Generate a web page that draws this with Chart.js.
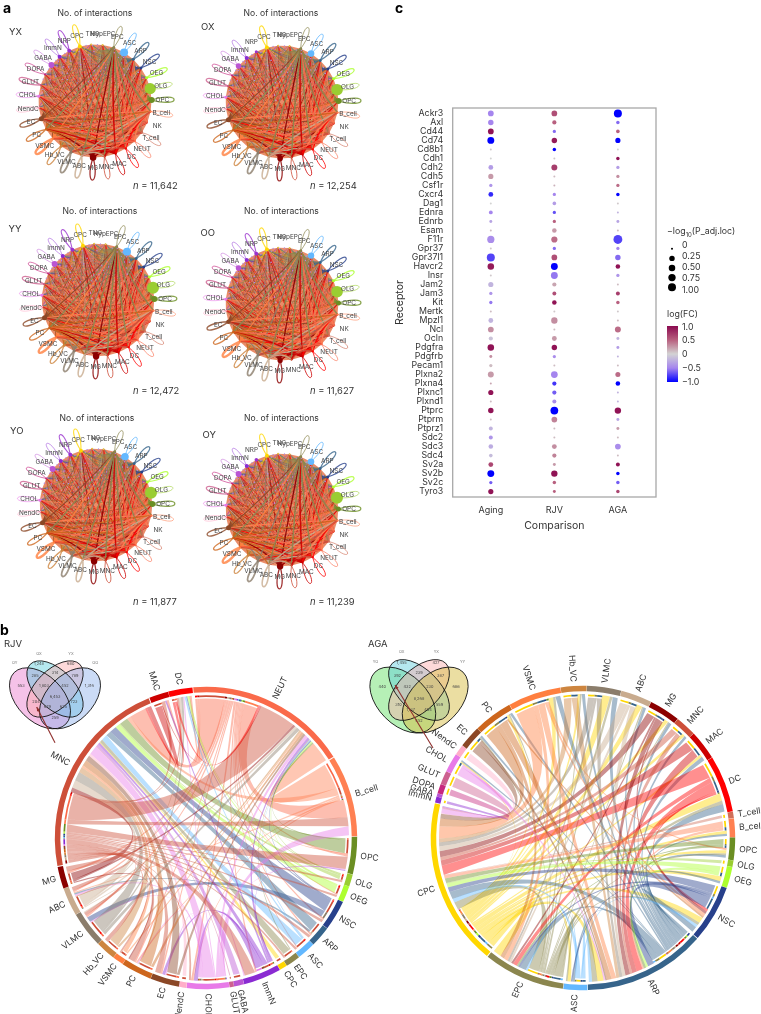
<!DOCTYPE html>
<html>
<head>
<meta charset="utf-8">
<title>Interactions</title>
<script src="https://cdn.jsdelivr.net/npm/chart.js@4"></script>
<style>
  html, body { margin: 0; padding: 0; background: #fff; }
  body { position: relative; width: 761px; height: 1014px; overflow: hidden; font-family: Inter, sans-serif; color: #333; }
  canvas { position: absolute; }
  .txt { position: absolute; white-space: nowrap; line-height: 1; }
  .panel { font-weight: 700; font-size: 14px; color: #000; }
  .title { font-size: 8.6px; transform: translate(-50%, -50%); }
  .tag { font-size: 9.5px; transform: translateY(-50%); }
  .count { font-size: 9.4px; transform: translateY(-50%); }
  .leg { font-size: 8.8px; }
  #colorbar { position: absolute; left: 667px; top: 326px; width: 11px; height: 56px;
    background: linear-gradient(#8b0a50, #b8607f 25%, #d3d3d3 50%, #a585ee 75%, #0000ff); }
  sub { font-size: 6px; line-height: 0; }
  i { font-style: italic; }
</style>
</head>
<body>
<div id="page"></div>
<script>
Chart.defaults.font.family = "Inter, sans-serif";
Chart.defaults.color = "#333";
Chart.defaults.animation = false;

// Colours per cell type
const cellColors = {
  NEUT: "#fa6a4a", B_cell: "#ff8052", T_cell: "#d0705a", NK: "#ee6a50", OPC: "#6b8e23", OLG: "#9acd32", OEG: "#adff2f",
  NSC: "#27408b", ARP: "#36648b", ASC: "#63b8ff", EPC: "#8b864e", CPC: "#ffd700", TNG: "#e8c84a", HypEPC: "#e8c84a",
  NRP: "#9a32cd", ImmN: "#8a2bd2", GABA: "#ba55d3", DOPA: "#c7287f", GLUT: "#cd6090", CHOL: "#e87ae8", NendC: "#ffaec9",
  EC: "#8b4726", PC: "#cd661d", VSMC: "#ff7f3f", Hb_VC: "#cd853f", VLMC: "#8b7d6b", ABC: "#c8ab8e", MG: "#8b0000",
  MNC: "#cd4f39", MAC: "#cd0000", DC: "#ff0000",
};

// Panel a: networks
const networkNodes = ["CPC", "TNG", "HypEPC", "EPC", "ASC", "ARP", "NSC", "OEG", "OLG", "OPC", "B_cell", "NK", "T_cell", "NEUT", "DC", "MAC",
  "MNC", "MG", "ABC", "VLMC", "Hb_VC", "VSMC", "PC", "EC", "NendC", "CHOL", "GLUT", "DOPA", "GABA", "ImmN", "NRP"];
const edgeWeights = [0.45, 0.2, 0.25, 1, 0.35, 0.45, 0.45, 0.3, 0.3, 0.5, 1, 0.8, 0.9, 1, 1, 1,
  1, 0.85, 0.95, 0.8, 0.6, 0.75, 0.9, 0.7, 0.3, 0.4, 0.35, 0.3, 0.3, 0.3, 0.3];
const loopWidths = [1.1, 0, 0, 0.9, 1, 1.3, 1.2, 1.3, 0.7, 1.3, 0.7, 0, 0.8, 0.8, 1, 1,
  1, 1.3, 1.6, 1.8, 1.3, 2.4, 1.3, 1.4, 0.7, 0.7, 1.3, 0.8, 0.6, 0.6, 1.1];
const sizesYX = [2, 1, 1, 1.5, 4, 1.5, 1.5, 1.5, 5.6, 3, 1, 0.5, 1, 1, 1, 1, 1, 3.3, 1, 1.5, 1.5, 1, 1, 2.5, 1, 1.5, 1, 1, 3, 2, 2];
const sizesOX = [2, 1, 1, 1.5, 3.3, 1.5, 1.5, 1.5, 5.8, 3, 1, 0.5, 1, 1, 1, 1, 1, 2.8, 1, 1.5, 1.5, 1, 1, 2.5, 1, 1.5, 1, 1, 2.8, 2, 1.5];
const sizesYY = [2, 1, 1, 1.5, 4, 1.5, 1.5, 1.5, 6, 3, 1, 0.5, 1, 1, 1, 1, 1, 3.2, 1, 1.5, 1.5, 1, 1, 2.5, 1, 1.5, 1, 1, 3, 2, 2];
const sizesOO = [2, 1, 1, 1.5, 3.2, 1.5, 1.5, 1.5, 5.8, 2.5, 1, 1, 1, 1, 1, 1, 1, 2.6, 1, 1.5, 1.5, 1, 1, 2.2, 1, 1.5, 1, 1, 2.8, 2, 2];
const sizesYO = [2, 1, 1, 1.5, 3.8, 1.5, 1.5, 1.5, 6, 3, 1, 0.5, 1, 1, 1, 1, 1, 3.2, 1, 1.5, 1.5, 1, 1, 2.5, 1, 1.5, 1, 1, 3, 2, 2];
const sizesOY = [2, 1, 1, 1.5, 3.3, 1.5, 1.5, 1.5, 6, 2.5, 1, 0.5, 1, 1, 1, 1, 1, 3.2, 1, 1.5, 1.5, 1, 1, 2.5, 1, 1.5, 1, 1, 3, 2, 1.8];

// Panel c: dot plot
const receptors = ["Ackr3", "Axl", "Cd44", "Cd74", "Cd8b1", "Cdh1", "Cdh2", "Cdh5", "Csf1r", "Cxcr4", "Dag1", "Ednra", "Ednrb", "Esam", "F11r",
  "Gpr37", "Gpr37l1", "Havcr2", "Insr", "Jam2", "Jam3", "Kit", "Mertk", "Mpzl1", "Ncl", "Ocln", "Pdgfra", "Pdgfrb", "Pecam1", "Plxna2", "Plxna4",
  "Plxnc1", "Plxnd1", "Ptprc", "Ptprm", "Ptprz1", "Sdc2", "Sdc3", "Sdc4", "Sv2a", "Sv2b", "Sv2c", "Tyro3"];
const comparisons = ["Aging", "RJV", "AGA"];
const agingSize = [0.3, 0.25, 0.3, 0.6, 0, 0, 0.15, 0.2, 0.02, 0.15, 0, 0.05, 0.01, 0, 0.7, 0, 1, 0.5, 0, 0.2, 0.02, 0.02, 0, 0.15, 0.3, 0.08, 0.5, 0.01, 0.02, 0.35, 0, 0.2, 0, 0.25, 0, 0.06, 0.06, 0.12, 0.04, 0.15, 0.6, 0.02, 0.2];
const agingFc = [-0.5, -0.5, 0.95, -1, 0.05, 0, -0.35, 0.25, -0.4, -0.85, 0, -0.5, -0.3, 0.1, -0.45, 0.05, -0.75, 0.9, 0.05, -0.2, -0.4, -0.55, 0.1, -0.2, 0.3, -0.1, 0.95, 0.3, 0.1, 0.25, 0.2, 0.95, 0.1, 0.95, 0.1, -0.2, -0.4, -0.25, -0.15, 0.65, -1, -0.65, 0.95];
const rjvSize = [0.3, 0.08, 0.02, 0.25, 0.03, 0, 0.35, 0, 0, 0.02, 0.04, 0.02, 0.02, 0.12, 0.4, 0.02, 0.3, 0.6, 0.6, 0.08, 0.06, 0.12, 0, 0.45, 0, 0.15, 0.25, 0.02, 0, 0.55, 0.08, 0.08, 0.07, 0.9, 0.3, 0, 0, 0.15, 0.08, 0.01, 0.45, 0.03, 0.01];
const rjvFc = [0.6, 0.5, -0.6, 0.9, -1, 0.05, 0.7, 0.1, 0.15, -0.5, -0.35, -0.7, 0.5, 0.25, 0.45, -0.6, 0.6, -1, -0.55, 0.2, 0.6, 0.95, 0.05, 0.3, 0.1, 0.25, 0.95, -0.45, 0.1, -0.5, -0.8, -0.65, -0.45, -1, 0.35, 0.1, 0.1, 0.3, 0.35, 0.25, 0.95, 0.5, 0.5];
const agaSize = [1, 0.03, 0.04, 0.2, 0, 0.03, 0.02, 0.02, 0.02, 0.03, 0, 0, 0.01, 0, 1.4, 0.02, 0.25, 0.12, 0.02, 0, 0.06, 0.03, 0, 0, 0.35, 0.01, 0.01, 0, 0, 0.18, 0.12, 0, 0, 0.45, 0.01, 0.01, 0, 0.3, 0, 0.06, 0.03, 0.03, 0.03];
const agaFc = [-1, -0.6, 0.5, -1, 0, 0.95, -0.35, 0.3, 0.45, -1, 0.05, -0.2, -0.3, 0.1, -0.75, -0.5, -0.6, 0.95, -0.4, 0.1, 0.7, 0.5, 0.05, 0.1, 0.45, -0.2, -0.35, -0.2, 0.1, 0.45, -1, -0.2, -0.2, 0.95, -0.3, 0.25, 0.1, -0.45, 0.1, 0.95, -1, -0.65, 0.65];
const sizeLegend = [0, 0.25, 0.5, 0.75, 1];
const fcStops = [[-1, [0, 0, 255]], [-0.5, [165, 133, 238]], [0, [211, 211, 211]], [0.5, [184, 96, 127]], [1, [139, 10, 80]]];

// Panel b: chord rings, spans are read in degrees
const rjvSectors = ["NEUT", "B_cell", "OPC", "OLG", "OEG", "NSC", "ARP", "ASC", "EPC", "CPC", "ImmN", "GABA", "GLUT", "CHOL", "NendC", "EC", "PC", "VSMC", "Hb_VC", "VLMC", "ABC", "MG", "MNC", "MAC", "DC"];
const rjvSpans = [62.8, 31.8, 14.5, 4.7, 6.3, 11.7, 8.1, 7.2, 5.7, 3, 14.7, 3.9, 1.7, 16.5, 2.8, 11.2, 12, 4.3, 7.8, 13.9, 11, 8.5, 79, 7.5, 9.4];
const rjvFlows = [
  ["NEUT", "MNC", 11], ["NEUT", "MAC", 1], ["NEUT", "DC", 1], ["NEUT", "MG", 1], ["NEUT", "ABC", 1], ["NEUT", "VLMC", 1], ["NEUT", "PC", 0.6], ["NEUT", "EC", 0.6],
  ["NEUT", "CHOL", 1], ["NEUT", "ImmN", 0.6], ["NEUT", "ASC", 0.5], ["NEUT", "ARP", 0.6], ["NEUT", "NSC", 0.6], ["NEUT", "OEG", 0.5], ["NEUT", "OPC", 1], ["NEUT", "B_cell", 6],
  ["B_cell", "NEUT", 9], ["B_cell", "MNC", 2.5], ["B_cell", "ABC", 0.6], ["B_cell", "CHOL", 0.5], ["B_cell", "PC", 0.5], ["B_cell", "OPC", 0.3],
  ["OPC", "MNC", 5.5], ["OPC", "NEUT", 0.6], ["OLG", "MNC", 0.8], ["OLG", "NEUT", 0.3], ["OLG", "DC", 0.3], ["OEG", "MNC", 3], ["OEG", "NEUT", 0.5], ["OEG", "DC", 0.8],
  ["NSC", "MNC", 4.5], ["NSC", "VLMC", 2.5], ["NSC", "NEUT", 0.5], ["NSC", "DC", 0.4], ["ARP", "MNC", 3.5], ["ARP", "ABC", 0.8], ["ASC", "MNC", 4], ["ASC", "NEUT", 0.4], ["ASC", "DC", 0.8],
  ["EPC", "MNC", 2], ["EPC", "NEUT", 0.3], ["CPC", "MNC", 0.5],
  ["ImmN", "MNC", 1.5], ["ImmN", "CHOL", 2], ["ImmN", "EC", 1], ["ImmN", "NEUT", 1], ["ImmN", "OPC", 0.4], ["ImmN", "MAC", 0.6], ["GABA", "MNC", 1.5], ["GLUT", "MNC", 0.5],
  ["CHOL", "MNC", 6], ["CHOL", "B_cell", 3], ["CHOL", "NEUT", 1.5], ["CHOL", "ABC", 1], ["CHOL", "VLMC", 0.7], ["CHOL", "PC", 0.5], ["CHOL", "EC", 0.5], ["CHOL", "ImmN", 0.5], ["CHOL", "OPC", 0.4], ["CHOL", "DC", 0.6],
  ["NendC", "MNC", 1.5], ["EC", "MNC", 3.5], ["EC", "NEUT", 1], ["PC", "MNC", 4], ["PC", "NEUT", 1], ["PC", "ABC", 0.5], ["VSMC", "MNC", 1.5], ["VSMC", "NEUT", 0.5],
  ["Hb_VC", "MNC", 3.5], ["Hb_VC", "NEUT", 0.8], ["VLMC", "MNC", 6], ["VLMC", "NEUT", 1.5], ["VLMC", "DC", 1], ["ABC", "MNC", 5], ["ABC", "NEUT", 1], ["ABC", "VLMC", 0.5], ["ABC", "DC", 1], ["MG", "MNC", 3], ["MG", "NEUT", 1], ["MG", "PC", 0.5],
  ["MNC", "NEUT", 16], ["MNC", "B_cell", 3], ["MNC", "OPC", 5], ["MNC", "OLG", 0.5], ["MNC", "OEG", 1], ["MNC", "NSC", 1], ["MNC", "ARP", 1], ["MNC", "ASC", 1], ["MNC", "EPC", 0.5], ["MNC", "ImmN", 3.5],
  ["MNC", "CHOL", 1], ["MNC", "EC", 2], ["MNC", "PC", 2], ["MNC", "VSMC", 0.6], ["MNC", "Hb_VC", 1.5], ["MNC", "VLMC", 1.5], ["MNC", "ABC", 2], ["MNC", "MG", 2], ["MNC", "MAC", 1.5], ["MNC", "DC", 1],
  ["MAC", "MNC", 3], ["MAC", "NEUT", 0.4], ["DC", "MNC", 1.2], ["DC", "NEUT", 1],
];
const agaSectors = ["VLMC", "ABC", "MG", "MNC", "MAC", "DC", "T_cell", "B_cell", "OPC", "OLG", "OEG", "NSC", "ARP", "ASC", "EPC", "CPC", "ImmN", "GABA", "DOPA", "GLUT", "CHOL", "NendC", "EC", "PC", "VSMC", "Hb_VC"];
const agaSpans = [13.2, 12, 11.9, 8.1, 11.4, 22, 2.5, 7.3, 8.7, 2.5, 8.1, 22.1, 47.1, 9.2, 31.4, 64.6, 2.3, 1.3, 3.7, 5.2, 7.4, 4.1, 8.5, 15.1, 20.4, 9.9];
const agaFlows = [
  ["CPC", "VLMC", 3], ["CPC", "ABC", 2], ["CPC", "MG", 2], ["CPC", "MNC", 1], ["CPC", "MAC", 1], ["CPC", "DC", 3], ["CPC", "B_cell", 1], ["CPC", "OPC", 2], ["CPC", "OEG", 2], ["CPC", "NSC", 2],
  ["CPC", "ARP", 4], ["CPC", "ASC", 2], ["CPC", "EPC", 4], ["CPC", "PC", 1], ["CPC", "VSMC", 2], ["CPC", "Hb_VC", 0.8], ["CPC", "CHOL", 0.5],
  ["ARP", "CPC", 5], ["ARP", "EPC", 3], ["ARP", "ASC", 1.5], ["ARP", "NSC", 2], ["ARP", "OEG", 1], ["ARP", "OPC", 1.5], ["ARP", "B_cell", 0.7], ["ARP", "DC", 3], ["ARP", "MAC", 1.5], ["ARP", "MNC", 0.8],
  ["ARP", "MG", 1.5], ["ARP", "ABC", 1], ["ARP", "VLMC", 2], ["ARP", "Hb_VC", 1], ["ARP", "VSMC", 2], ["ARP", "PC", 1], ["ARP", "EC", 0.6], ["ARP", "CHOL", 0.5],
  ["EPC", "CPC", 5], ["EPC", "ARP", 3.5], ["EPC", "ASC", 1], ["EPC", "DC", 1.5], ["EPC", "NSC", 1], ["EPC", "OPC", 1], ["EPC", "VLMC", 1], ["EPC", "VSMC", 1], ["EPC", "ABC", 0.5], ["EPC", "MG", 0.5], ["EPC", "PC", 0.5], ["EPC", "EC", 0.4], ["EPC", "Hb_VC", 0.5],
  ["ASC", "CPC", 2.5], ["ASC", "ARP", 2], ["ASC", "EPC", 1], ["ASC", "NSC", 1], ["DC", "CPC", 6], ["DC", "ARP", 4], ["DC", "EPC", 2], ["DC", "NSC", 1], ["DC", "OPC", 0.4],
  ["MAC", "CPC", 3.5], ["MAC", "ARP", 3], ["MG", "CPC", 4], ["MG", "ARP", 3], ["MG", "EPC", 1], ["MG", "NSC", 1],
  ["VSMC", "CPC", 8], ["VSMC", "ARP", 3], ["VSMC", "EPC", 2], ["VSMC", "NSC", 1], ["VSMC", "OPC", 1], ["PC", "CPC", 5], ["PC", "ARP", 3], ["PC", "EPC", 2], ["PC", "NSC", 0.7],
  ["EC", "CPC", 3], ["EC", "ARP", 1], ["Hb_VC", "CPC", 2.5], ["Hb_VC", "ARP", 2], ["VLMC", "CPC", 2.5], ["VLMC", "ARP", 2], ["VLMC", "EPC", 1], ["ABC", "CPC", 3], ["ABC", "ARP", 2], ["ABC", "EPC", 1],
  ["MNC", "CPC", 2], ["MNC", "ARP", 1.5], ["OEG", "CPC", 2.5], ["OEG", "ARP", 1.5], ["OPC", "CPC", 3], ["OPC", "ARP", 1.5], ["OPC", "EPC", 0.8], ["NSC", "CPC", 3], ["NSC", "ARP", 4], ["NSC", "EPC", 1], ["NSC", "ASC", 0.8],
  ["CHOL", "CPC", 3], ["CHOL", "ARP", 1], ["B_cell", "CPC", 2], ["B_cell", "ARP", 1], ["GLUT", "CPC", 0.6], ["DOPA", "CPC", 0.4], ["ImmN", "CPC", 0.5], ["NendC", "CPC", 0.4], ["T_cell", "CPC", 0.4], ["OLG", "CPC", 0.5], ["GABA", "CPC", 0.2],
];

// Venn counts
const vennOffsets = [[-34, -3.3], [-16, -24.7], [15.7, -24.7], [34.3, -3.3], [-20, -13], [0, -15.7], [20, -13], [-11, -3.3], [10, -3.3], [0, 8.3], [-19, 13.3], [-7.7, 18], [8.3, 18], [19, 13.3], [0, 28.7]];
const vennLabelOffsets = [[-40.3, -26.3], [-16, -35.3], [16, -35.3], [40.3, -26.3]];
const rjvCounts = ["553", "1,248", "680", "1,316", "285", "314", "789", "1,803", "452", "6,453", "204", "679", "625", "723", "259"];
const agaCounts = ["440", "1,455", "427", "686", "392", "239", "387", "432", "230", "8,268", "310", "1,137", "454", "559", "452"];
const rjvSets = ["OY", "OX", "YX", "OO"];
const agaSets = ["YO", "OX", "YX", "YY"];

const page = document.getElementById("page");

const addText = (html, x, y, cls) => {
  const el = document.createElement("div");
  el.className = "txt " + cls;
  el.style.left = x + "px";
  el.style.top = y + "px";
  el.innerHTML = html;
  page.appendChild(el);
};

const addCanvas = (x, y, w, h) => {
  const canvas = document.createElement("canvas");
  canvas.width = w;
  canvas.height = h;
  canvas.style.left = x + "px";
  canvas.style.top = y + "px";
  canvas.style.width = w + "px";
  canvas.style.height = h + "px";
  page.appendChild(canvas);
  return canvas;
};

const baseOptions = {
  responsive: false,
  devicePixelRatio: 1,
  plugins: { legend: { display: false }, tooltip: { enabled: false } },
};

const hexAlpha = (hex, a) => {
  const n = parseInt(hex.slice(1), 16);
  return `rgba(${n >> 16},${(n >> 8) & 255},${n & 255},${a})`;
};

// Network panels
const networkPlugin = {
  id: "network",
  beforeDatasetsDraw(chart, args, opts) {
    const { ctx } = chart;
    const pts = chart.getDatasetMeta(0).data;
    const cx = chart.scales.x.getPixelForValue(0);
    const cy = chart.scales.y.getPixelForValue(0);
    ctx.save();
    // base fill of the dense edge mesh
    ctx.beginPath();
    pts.forEach((p, i) => (i ? ctx.lineTo(p.x, p.y) : ctx.moveTo(p.x, p.y)));
    ctx.closePath();
    ctx.fillStyle = "#e98c68";
    ctx.fill();
    // edges, light ones first; heavy pairs alternate between both node colours
    const edges = [];
    for (let i = 0; i < pts.length; i++) {
      for (let j = i + 1; j < pts.length; j++) {
        const bothHeavy = edgeWeights[i] >= 0.6 && edgeWeights[j] >= 0.6;
        const src = bothHeavy ? ((i + j) % 2 ? i : j) : edgeWeights[i] > edgeWeights[j] ? i : j;
        edges.push([i, j, src, edgeWeights[i] * edgeWeights[j]]);
      }
    }
    edges.sort((a, b) => a[3] - b[3]);
    edges.forEach(([i, j, src, w]) => {
      ctx.beginPath();
      ctx.moveTo(pts[i].x, pts[i].y);
      ctx.quadraticCurveTo((pts[i].x + pts[j].x) / 2 + (cx - (pts[i].x + pts[j].x) / 2) * 0.15, (pts[i].y + pts[j].y) / 2 + (cy - (pts[i].y + pts[j].y) / 2) * 0.15, pts[j].x, pts[j].y);
      ctx.strokeStyle = hexAlpha(cellColors[networkNodes[src]], 0.9);
      ctx.lineWidth = 0.3 + w * 1.2;
      ctx.stroke();
    });
    // small arrow tips of the light links
    edges.filter((e) => e[3] < 0.12).forEach(([i, j]) => {
      ctx.beginPath();
      ctx.arc(pts[i].x * 0.45 + pts[j].x * 0.55, pts[i].y * 0.45 + pts[j].y * 0.55, 0.7, 0, Math.PI * 2);
      ctx.fillStyle = "#b48ae0";
      ctx.fill();
    });
    // self loops
    pts.forEach((p, i) => {
      if (!loopWidths[i] || opts.noLoops.includes(networkNodes[i])) return;
      const a = Math.atan2(p.y - cy, p.x - cx);
      const ux = Math.cos(a), uy = Math.sin(a);
      ctx.beginPath();
      ctx.moveTo(p.x, p.y);
      ctx.bezierCurveTo(p.x + ux * 30 - uy * 9, p.y + uy * 30 + ux * 9, p.x + ux * 30 + uy * 9, p.y + uy * 30 - ux * 9, p.x, p.y);
      ctx.strokeStyle = hexAlpha(cellColors[networkNodes[i]], 0.8);
      ctx.lineWidth = loopWidths[i];
      ctx.stroke();
    });
    ctx.restore();
  },
  afterDatasetsDraw(chart) {
    const { ctx } = chart;
    const pts = chart.getDatasetMeta(0).data;
    const cx = chart.scales.x.getPixelForValue(0);
    const cy = chart.scales.y.getPixelForValue(0);
    ctx.save();
    ctx.font = "6.4px Inter";
    ctx.fillStyle = "#444";
    ctx.textAlign = "center";
    ctx.textBaseline = "middle";
    pts.forEach((p, i) => {
      const k = 1.19;
      let x = cx + (p.x - cx) * k, y = cy + (p.y - cy) * k;
      if (networkNodes[i] === "TNG") x += 2;
      if (networkNodes[i] === "HypEPC") x -= 1;
      ctx.fillText(networkNodes[i], x, y);
    });
    ctx.restore();
  },
};

const drawNetwork = (name, sizes, n, noLoops, pos) => {
  const R = 60;
  const W = 196, H = 196;
  const step = 360 / networkNodes.length;
  const nodes = networkNodes.map((_, i) => {
    const t = ((344.5 + i * step) * Math.PI) / 180;
    return { x: Math.sin(t), y: Math.cos(t) };
  });
  new Chart(addCanvas(pos.cx - W / 2, pos.cy - H / 2, W, H), {
    type: "scatter",
    data: {
      datasets: [{
        data: nodes,
        pointRadius: sizes,
        pointBorderWidth: 0,
        pointBackgroundColor: networkNodes.map((c) => cellColors[c]),
      }],
    },
    options: {
      ...baseOptions,
      scales: {
        x: { display: false, min: -W / 2 / R, max: W / 2 / R },
        y: { display: false, min: -H / 2 / R, max: H / 2 / R },
      },
      plugins: { ...baseOptions.plugins, network: { noLoops } },
    },
    plugins: [networkPlugin],
  });
  addText("No. of interactions", pos.titleX, pos.titleY, "title");
  addText(name, pos.tagX, pos.tagY, "tag");
  addText(`<i>n</i> = ${n}`, pos.nX, pos.nY, "count");
};

drawNetwork("YX", sizesYX, "11,642", [], { cx: 95, cy: 101, titleX: 95, titleY: 13, tagX: 9, tagY: 32, nX: 133, nY: 186 });
drawNetwork("OX", sizesOX, "12,254", ["NRP"], { cx: 282, cy: 102, titleX: 281, titleY: 13, tagX: 201, tagY: 27, nX: 310, nY: 186 });
drawNetwork("YY", sizesYY, "12,472", [], { cx: 98, cy: 300, titleX: 100, titleY: 211, tagX: 8.5, tagY: 229, nX: 133, nY: 390.5 });
drawNetwork("OO", sizesOO, "11,627", ["MNC"], { cx: 282, cy: 304, titleX: 281.5, titleY: 211, tagX: 200.5, tagY: 232.5, nX: 310, nY: 390.5 });
drawNetwork("YO", sizesYO, "11,877", [], { cx: 96, cy: 505, titleX: 97, titleY: 418, tagX: 10, tagY: 431, nX: 133, nY: 601.5 });
drawNetwork("OY", sizesOY, "11,239", ["NRP"], { cx: 282, cy: 510, titleX: 281.5, titleY: 418, tagX: 202.5, tagY: 435, nX: 310, nY: 601.5 });

// Chord diagrams
const chordPlugin = {
  id: "chord",
  beforeDatasetsDraw(chart, args, opts) {
    const { ctx } = chart;
    const arcs = chart.getDatasetMeta(0).data;
    const names = opts.sectors;
    const R = arcs[0].outerRadius;
    const cx = arcs[0].x, cy = arcs[0].y;
    const mid = names.map((_, i) => (arcs[i].startAngle + arcs[i].endAngle) / 2);
    const twoPi = Math.PI * 2;
    const delta = (from, to) => ((mid[to] - mid[from]) % twoPi + twoPi) % twoPi;

    // each sector: outgoing ends first, then incoming, sorted so links do not cross
    const slots = opts.flows.map(() => ({}));
    names.forEach((name, s) => {
      const outs = [], ins = [];
      opts.flows.forEach((f, k) => {
        if (f[0] === name) outs.push({ k, other: names.indexOf(f[1]), v: f[2] });
        if (f[1] === name) ins.push({ k, other: names.indexOf(f[0]), v: f[2] });
      });
      const byOther = (a, b) => delta(s, b.other) - delta(s, a.other);
      outs.sort(byOther);
      ins.sort(byOther);
      const total = [...outs, ...ins].reduce((sum, e) => sum + e.v, 0);
      const span = arcs[s].endAngle - arcs[s].startAngle - 3.4 / R;
      let a = arcs[s].startAngle + 1.7 / R;
      outs.forEach((e) => {
        const w = (e.v / total) * span;
        slots[e.k].from = [a, a + w];
        a += w;
      });
      ins.forEach((e) => {
        const w = (e.v / total) * span;
        slots[e.k].to = [a, a + w];
        a += w;
      });
    });

    const rFrom = R - 10.5;
    const rTo = R - 7;
    const at = (r, t) => [cx + r * Math.cos(t), cy + r * Math.sin(t)];
    // control point leans towards the bisector of the two ends, keeps bands open at the centre
    const ctrl = (t1, t2) => {
      const vx = Math.cos(t1) + Math.cos(t2), vy = Math.sin(t1) + Math.sin(t2);
      const len = Math.hypot(vx, vy) || 1;
      return [cx + (vx / len) * R * 0.08, cy + (vy / len) * R * 0.08];
    };
    ctx.save();
    opts.flows.forEach((f, k) => {
      const { from, to } = slots[k];
      if (!from || !to) return;
      ctx.beginPath();
      ctx.arc(cx, cy, rFrom, from[0], from[1]);
      ctx.quadraticCurveTo(...ctrl(from[1], to[0]), ...at(rTo, to[0]));
      ctx.arc(cx, cy, rTo, to[0], to[1]);
      ctx.quadraticCurveTo(...ctrl(to[1], from[0]), ...at(rFrom, from[0]));
      ctx.closePath();
      ctx.fillStyle = hexAlpha(cellColors[f[0]], 0.44);
      ctx.fill();
      // thin track over the outgoing end, in the colour of the target
      ctx.beginPath();
      ctx.arc(cx, cy, R - 8.2, from[0], from[1]);
      ctx.strokeStyle = cellColors[f[1]];
      ctx.lineWidth = 1.7;
      ctx.stroke();
    });
    ctx.restore();
  },
  afterDatasetsDraw(chart, args, opts) {
    const { ctx } = chart;
    const arcs = chart.getDatasetMeta(0).data;
    const R = arcs[0].outerRadius;
    ctx.save();
    ctx.font = "8.6px Inter";
    ctx.fillStyle = "#333";
    ctx.textBaseline = "middle";
    opts.sectors.forEach((name, i) => {
      const t = (arcs[i].startAngle + arcs[i].endAngle) / 2;
      const clock = ((t + Math.PI / 2) % (Math.PI * 2) + Math.PI * 2) % (Math.PI * 2);
      const right = clock <= Math.PI;
      ctx.save();
      ctx.translate(arcs[i].x + (R + 5.5) * Math.cos(t), arcs[i].y + (R + 5.5) * Math.sin(t));
      ctx.rotate(right ? t : t + Math.PI);
      ctx.textAlign = right ? "left" : "right";
      ctx.fillText(name, 0, 0);
      ctx.restore();
    });
    ctx.restore();
  },
};

const drawChord = (sectors, spans, flows, rotation, cx, cy, R) => {
  const size = 400;
  const spacing = 2.4;
  new Chart(addCanvas(cx - size / 2, cy - size / 2, size, size), {
    type: "doughnut",
    data: {
      labels: sectors,
      datasets: [{
        data: spans,
        backgroundColor: sectors.map((c) => cellColors[c]),
        borderWidth: 0,
        spacing,
      }],
    },
    options: {
      ...baseOptions,
      rotation,
      cutout: R - 5.5,
      layout: { padding: size / 2 - R - spacing / 2 },
      plugins: { ...baseOptions.plugins, chord: { sectors, flows } },
    },
    plugins: [chordPlugin],
  });
};

drawChord(rjvSectors, rjvSpans, rjvFlows, -5.1, 206, 837.5, 150);
drawChord(agaSectors, agaSpans, agaFlows, 1.4, 582.7, 838, 151);

// Venn diagrams
const vennPlugin = {
  id: "venn",
  afterDatasetsDraw(chart, args, opts) {
    const { ctx } = chart;
    const px = (x, y) => [chart.scales.x.getPixelForValue(x), chart.scales.y.getPixelForValue(y)];
    const k = opts.scale;
    const shapes = [[-15, 9.3, 36.5, 23, Math.PI / 4], [0, 0, 35, 19, Math.PI / 4], [0, 0, 35, 19, -Math.PI / 4], [15, 9.3, 36.5, 23, -Math.PI / 4]];
    ctx.save();
    shapes.forEach((s, i) => {
      const [x, y] = px(s[0] * k, s[1] * k);
      ctx.beginPath();
      ctx.ellipse(x, y, s[2] * k, s[3] * k, s[4], 0, Math.PI * 2);
      ctx.fillStyle = opts.fills[i];
      ctx.fill();
    });
    shapes.forEach((s) => {
      const [x, y] = px(s[0] * k, s[1] * k);
      ctx.beginPath();
      ctx.ellipse(x, y, s[2] * k, s[3] * k, s[4], 0, Math.PI * 2);
      ctx.strokeStyle = "#111";
      ctx.lineWidth = 0.9;
      ctx.stroke();
    });
    ctx.textAlign = "center";
    ctx.textBaseline = "middle";
    ctx.font = "3.9px Inter";
    ctx.fillStyle = "#444";
    chart.getDatasetMeta(0).data.forEach((p, i) => ctx.fillText(opts.counts[i], p.x, p.y));
    ctx.fillStyle = "#777";
    vennLabelOffsets.forEach((o, i) => {
      const [x, y] = px(o[0] * k, o[1] * k);
      ctx.fillText(opts.sets[i], x, y);
    });
    // pointer arrow
    const [x1, y1] = px(opts.arrow[0], opts.arrow[1]);
    const [x2, y2] = px(opts.arrow[2], opts.arrow[3]);
    const a = Math.atan2(y2 - y1, x2 - x1);
    ctx.strokeStyle = ctx.fillStyle = "#8f2f2c";
    ctx.lineWidth = 1.1;
    ctx.beginPath();
    ctx.moveTo(x1, y1);
    ctx.lineTo(x2, y2);
    ctx.stroke();
    ctx.beginPath();
    ctx.moveTo(x2, y2);
    ctx.lineTo(x2 - 4.5 * Math.cos(a - 0.4), y2 - 4.5 * Math.sin(a - 0.4));
    ctx.lineTo(x2 - 4.5 * Math.cos(a + 0.4), y2 - 4.5 * Math.sin(a + 0.4));
    ctx.closePath();
    ctx.fill();
    ctx.restore();
  },
};

const drawVenn = (counts, sets, fills, arrow, k, cx, cy) => {
  const w = 130, h = 116;
  const left = cx - w / 2, top = cy - 40;
  new Chart(addCanvas(left, top, w, h), {
    type: "scatter",
    data: { datasets: [{ data: vennOffsets.map((o) => ({ x: o[0] * k, y: o[1] * k })), pointRadius: 0 }] },
    options: {
      ...baseOptions,
      scales: {
        x: { display: false, min: -w / 2, max: w / 2 },
        y: { display: false, reverse: true, min: -40, max: h - 40 },
      },
      plugins: { ...baseOptions.plugins, venn: { counts, sets, fills, arrow, scale: k } },
    },
    plugins: [vennPlugin],
  });
};

drawVenn(rjvCounts, rjvSets, ["rgba(232,120,205,.45)", "rgba(90,205,220,.45)", "rgba(250,170,170,.45)", "rgba(140,175,235,.45)"], [0, 53.7, -18.3, 18], 1, 55, 688.5);
drawVenn(agaCounts, agaSets, ["rgba(110,225,110,.5)", "rgba(90,205,220,.45)", "rgba(250,170,170,.45)", "rgba(215,190,70,.5)"], [14, 58, -24, -5], 1.08, 419, 690);

// Dot plot
const fcColor = (v) => {
  for (let i = 1; i < fcStops.length; i++) {
    if (v <= fcStops[i][0]) {
      const [v0, c0] = fcStops[i - 1];
      const [v1, c1] = fcStops[i];
      const f = (v - v0) / (v1 - v0);
      return `rgb(${c0.map((c, k) => Math.round(c + (c1[k] - c) * f)).join(",")})`;
    }
  }
  return "rgb(139,10,80)";
};
const dotRadius = (p) => 1 + 3 * Math.pow(p, 0.4);

const frame = {
  id: "frame",
  beforeDatasetsDraw(chart) {
    const { ctx, chartArea: a } = chart;
    ctx.save();
    ctx.strokeStyle = "#a8a8a8";
    ctx.lineWidth = 1.3;
    ctx.strokeRect(a.left, a.top, a.right - a.left, a.bottom - a.top);
    ctx.restore();
  },
};

const dotSeries = [[agingSize, agingFc], [rjvSize, rjvFc], [agaSize, agaFc]];

new Chart(addCanvas(390, 100, 275, 436), {
  type: "bubble",
  data: {
    datasets: dotSeries.map(([sizes, fc], k) => ({
      label: comparisons[k],
      data: receptors.map((_, i) => ({ x: k, y: i, r: dotRadius(sizes[i]) })),
      backgroundColor: fc.map(fcColor),
      borderWidth: 0,
      clip: false,
    })),
  },
  options: {
    ...baseOptions,
    layout: { padding: { top: 8, right: 9, left: 0, bottom: 0 } },
    scales: {
      x: {
        type: "linear",
        min: -0.6,
        max: 2.6,
        grid: { display: false },
        border: { display: false },
        afterBuildTicks: (axis) => { axis.ticks = comparisons.map((_, i) => ({ value: i })); },
        afterFit: (axis) => { axis.height = 39; },
        ticks: { callback: (v) => comparisons[v], color: "#333", font: { size: 9 }, padding: 0, maxRotation: 0 },
        title: { display: true, text: "Comparison", color: "#333", font: { size: 10.5 }, padding: { top: 4 } },
      },
      y: {
        type: "linear",
        reverse: true,
        min: -0.6,
        max: 42.6,
        grid: { display: false },
        border: { display: false },
        afterBuildTicks: (axis) => { axis.ticks = receptors.map((_, i) => ({ value: i })); },
        afterFit: (axis) => { axis.width = 62.7; },
        ticks: { callback: (v) => receptors[v], autoSkip: false, color: "#333", font: { size: 8.8 }, padding: 1.5 },
        title: { display: true, text: "Receptor", color: "#333", font: { size: 10.5 }, padding: { bottom: 6 } },
      },
    },
  },
  plugins: [frame],
});

// Size legend
new Chart(addCanvas(664, 240, 16, 56), {
  type: "bubble",
  data: {
    datasets: [{
      data: sizeLegend.map((v, i) => ({ x: 0, y: i, r: dotRadius(v) })),
      backgroundColor: "#000",
      borderWidth: 0,
      clip: false,
    }],
  },
  options: {
    ...baseOptions,
    scales: {
      x: { display: false, min: -1, max: 1 },
      y: { display: false, reverse: true, min: -0.5, max: 4.5 },
    },
  },
});
["0", "0.25", "0.50", "0.75", "1.00"].forEach((t, i) => addText(t, 682, 241 + i * 11.15, "leg"));
addText("−log<sub>10</sub>(P_adj.loc)", 667, 227, "leg");
addText("log(FC)", 667, 310, "leg");
const bar = document.createElement("div");
bar.id = "colorbar";
page.appendChild(bar);
["1.0", "0.5", "0", "−0.5", "−1.0"].forEach((t, i) => addText(t, 682, 322.5 + i * 13.8, "leg"));

// Panel letters and tags
addText("a", 3, 1, "panel");
addText("b", 0, 623, "panel");
addText("c", 395, 1, "panel");
addText("RJV", 4, 644, "tag");
addText("AGA", 368, 644, "tag");
</script>
</body>
</html>
